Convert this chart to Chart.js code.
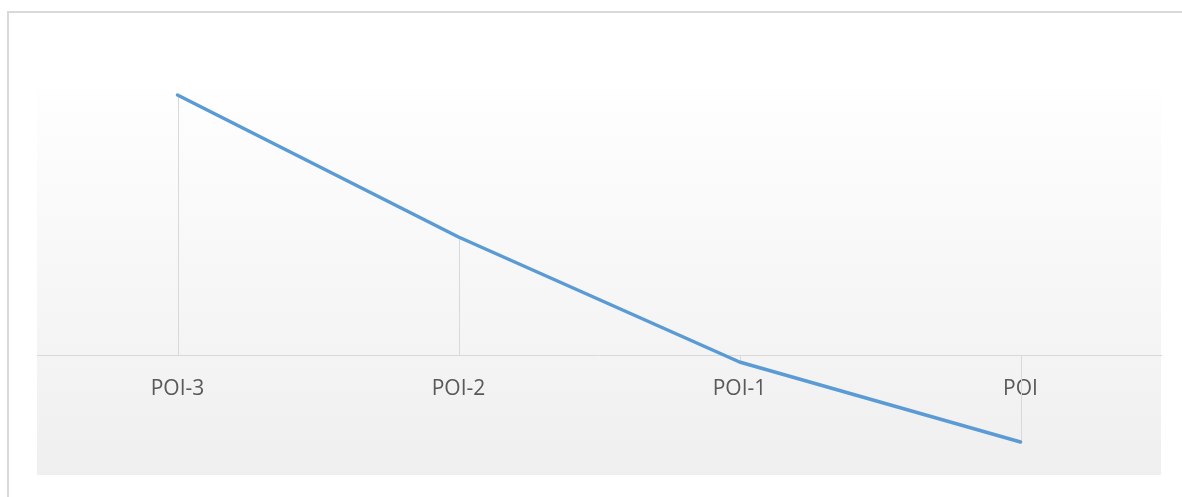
<!DOCTYPE html>
<html>
<head>
<meta charset="utf-8">
<script src="https://cdn.jsdelivr.net/npm/chart.js@4/dist/chart.umd.min.js"></script>
<style>
    html, body { margin: 0; padding: 0; background: #fff; overflow: hidden; }
    #frame {
        position: absolute; left: 7px; top: 11px; width: 1300px; height: 600px;
        border: 2px solid #d9d9d9; box-sizing: border-box;
    }
    #wrap { position: absolute; left: 0; top: 0; width: 1182px; height: 497px; }
</style>
</head>
<body>
<div id="frame"></div>
<div id="wrap"><canvas id="poiChart" width="1182" height="497"></canvas></div>
<script>
(function () {
    var categories = ['POI-3', 'POI-2', 'POI-1', 'POI'];
    var values = [2.6, 1.18, -0.07, -0.87];
    var yMin = -1.2;
    var yMax = 2.65;

    // plot background, light gradient from top to bottom
    var backgroundPlugin = {
        id: 'plotBackground',
        beforeDraw: function (chart) {
            var a = chart.chartArea;
            var ctx = chart.ctx;
            var g = ctx.createLinearGradient(0, a.top, 0, a.bottom);
            g.addColorStop(0, '#fefefe');
            g.addColorStop(1, '#efefef');
            ctx.save();
            ctx.fillStyle = g;
            ctx.fillRect(a.left, a.top, a.right - a.left, a.bottom - a.top);
            ctx.restore();
        }
    };

    // vertical drop lines from the zero axis to each point
    var dropLinePlugin = {
        id: 'dropLines',
        beforeDatasetsDraw: function (chart) {
            var meta = chart.getDatasetMeta(0);
            var zero = chart.scales.y.getPixelForValue(0);
            var ctx = chart.ctx;
            ctx.save();
            ctx.strokeStyle = '#d9d9d9';
            ctx.lineWidth = 1;
            meta.data.forEach(function (pt) {
                var x = Math.round(pt.x) + 0.5;
                ctx.beginPath();
                ctx.moveTo(x, zero);
                ctx.lineTo(x, pt.y);
                ctx.stroke();
            });
            ctx.restore();
        }
    };

    new Chart(document.getElementById('poiChart'), {
        type: 'line',
        data: {
            labels: categories,
            datasets: [{
                data: values,
                borderColor: '#5b9bd5',
                borderWidth: 3.5,
                pointRadius: 0,
                tension: 0,
                fill: false,
                borderCapStyle: 'round',
                borderJoinStyle: 'round'
            }]
        },
        options: {
            responsive: false,
            animation: false,
            layout: { padding: { left: 37, right: 21, top: 90, bottom: 22 } },
            plugins: { legend: { display: false }, tooltip: { enabled: false } },
            scales: {
                x: {
                    position: { y: 0 },
                    offset: true,
                    grid: { display: false },
                    border: { display: true, color: '#d9d9d9', width: 1 },
                    ticks: {
                        color: '#595959',
                        padding: 13,
                        font: { family: 'Open Sans', size: 21 }
                    }
                },
                y: {
                    display: false,
                    min: yMin,
                    max: yMax
                }
            }
        },
        plugins: [backgroundPlugin, dropLinePlugin]
    });
})();
</script>
</body>
</html>
